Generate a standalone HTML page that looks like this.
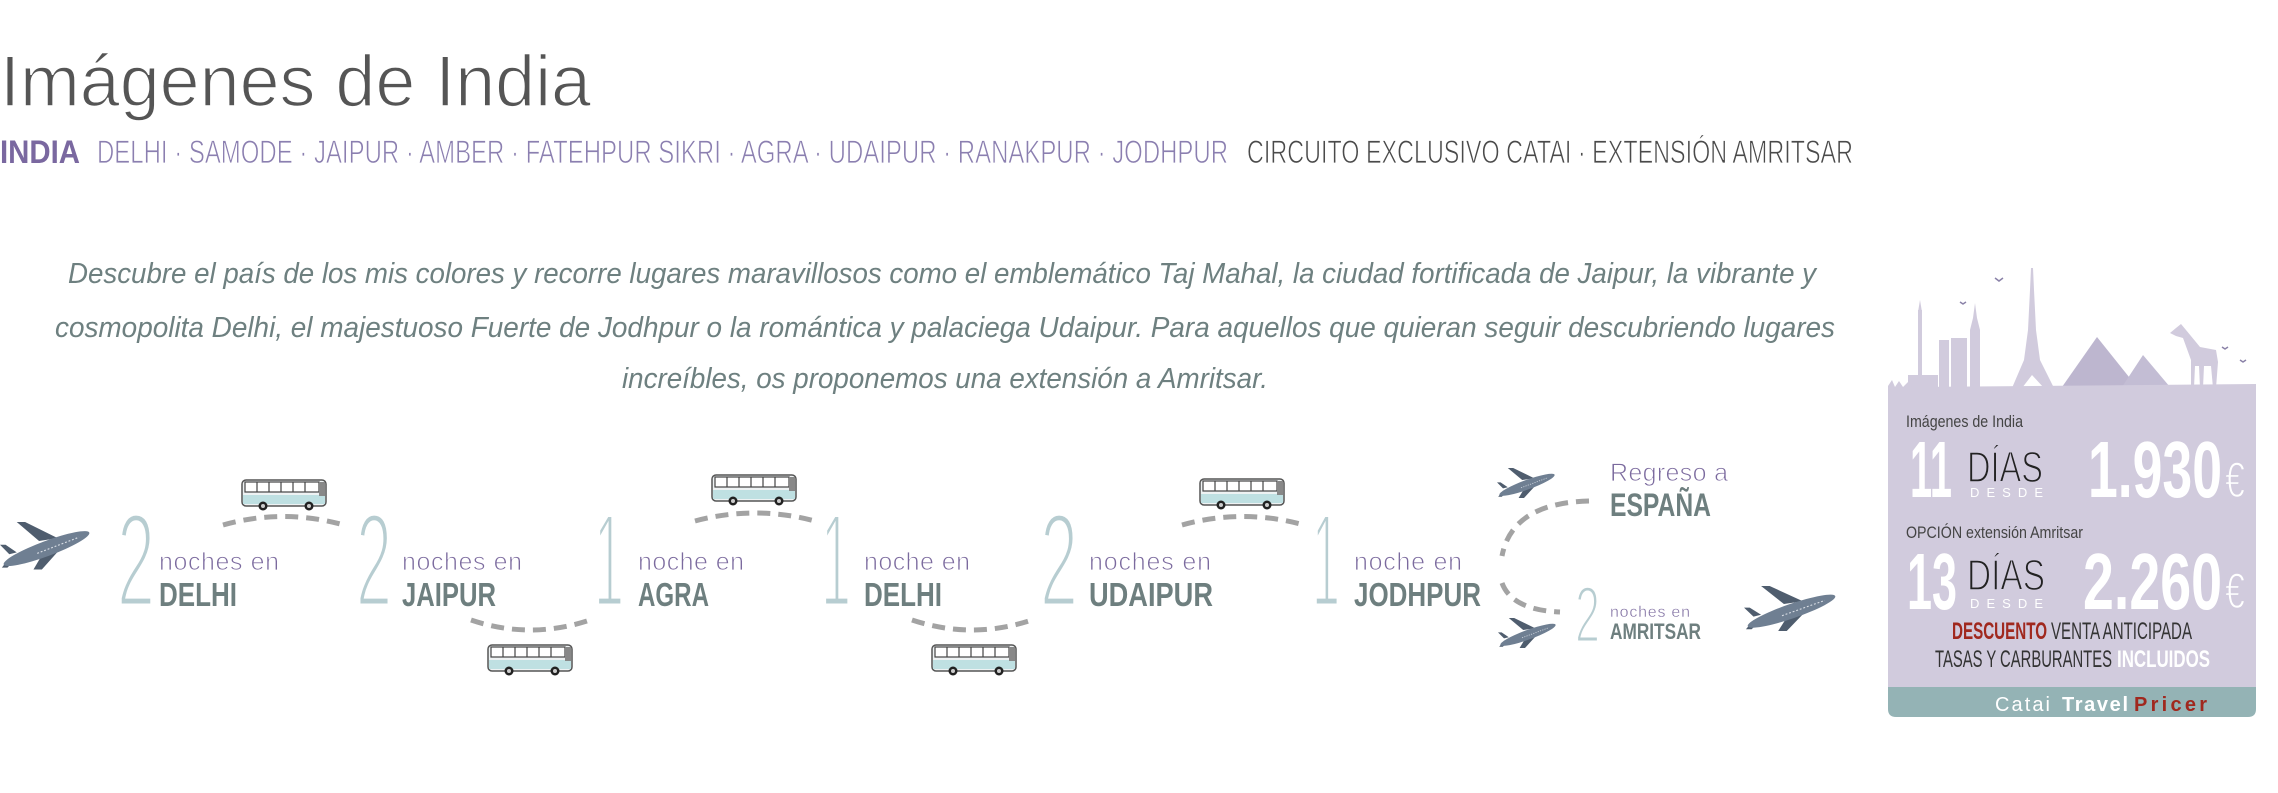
<!DOCTYPE html>
<html><head><meta charset="utf-8"><style>
html,body{margin:0;padding:0;background:#fff;}
svg{display:block;font-family:"Liberation Sans",sans-serif;}
</style></head><body>
<svg width="2278" height="793" viewBox="0 0 2278 793" xmlns="http://www.w3.org/2000/svg">
<defs>
<g id="plane">
 <polygon points="42,20 18,0 27,0 62,17" fill="#4f5d6e"/>
 <polygon points="48,30 36,50 45,50 66,27" fill="#4f5d6e"/>
 <polygon points="10,34 0,24 6,24 18,32" fill="#4f5d6e"/>
 <polygon points="10,38 2,48 8,48 18,38" fill="#4f5d6e"/>
 <ellipse cx="50" cy="28" rx="49" ry="8" transform="rotate(-20 50 28)" fill="#6f7f92"/>
 <path d="M40 33 L85 16" stroke="#d9dee5" stroke-width="1.2" stroke-dasharray="2 2"/>
</g>
<g id="bus">
 <rect x="1" y="2" width="84" height="26" rx="4" fill="#eef2f3" stroke="#555" stroke-width="1.5"/>
 <rect x="4" y="4" width="74" height="10" fill="#fff" stroke="#444" stroke-width="1.2"/>
 <path d="M16 4V14M28 4V14M40 4V14M52 4V14M64 4V14" stroke="#444" stroke-width="1.2"/>
 <rect x="2" y="17" width="82" height="9" fill="#bfe0e2"/>
 <rect x="78" y="4" width="6" height="14" fill="#888"/>
 <circle cx="22" cy="28" r="4.5" fill="#222"/><circle cx="22" cy="28" r="2" fill="#ccc"/>
 <circle cx="68" cy="28" r="4.5" fill="#222"/><circle cx="68" cy="28" r="2" fill="#ccc"/>
</g>
</defs>

<!-- Title -->
<text x="0" y="106" font-size="72" fill="#555" stroke="#fff" stroke-width="1.6" textLength="591" lengthAdjust="spacingAndGlyphs">Imágenes de India</text>
<text x="0" y="163" font-size="32" font-weight="bold" fill="#7a68a0" textLength="80" lengthAdjust="spacingAndGlyphs">INDIA</text>
<text x="97" y="163" font-size="32" fill="#8b7fb0" stroke="#fff" stroke-width="0.8" textLength="1131" lengthAdjust="spacingAndGlyphs">DELHI · SAMODE · JAIPUR · AMBER · FATEHPUR SIKRI · AGRA · UDAIPUR · RANAKPUR · JODHPUR</text>
<text x="1247" y="163" font-size="32" fill="#4a4a4a" stroke="#fff" stroke-width="0.8" textLength="606" lengthAdjust="spacingAndGlyphs">CIRCUITO EXCLUSIVO CATAI · EXTENSIÓN AMRITSAR</text>

<!-- Paragraph -->
<g font-size="29" font-style="italic" fill="#6e8080">
<text x="68" y="283" textLength="1748" lengthAdjust="spacingAndGlyphs">Descubre el país de los mis colores y recorre lugares maravillosos como el emblemático Taj Mahal, la ciudad fortificada de Jaipur, la vibrante y</text>
<text x="55" y="337" textLength="1780" lengthAdjust="spacingAndGlyphs">cosmopolita Delhi, el majestuoso Fuerte de Jodhpur o la romántica y palaciega Udaipur. Para aquellos que quieran seguir descubriendo lugares</text>
<text x="622" y="388" textLength="646" lengthAdjust="spacingAndGlyphs">increíbles, os proponemos una extensión a Amritsar.</text>
</g>

<!-- Dashes -->
<g fill="none" stroke="#a3a3a3" stroke-width="5" stroke-dasharray="13 8">
 <path d="M223 525 Q283 508 344 525"/>
 <path d="M695 521 Q755 505 815 521"/>
 <path d="M1182 525 Q1243 508 1304 525"/>
 <path d="M471 620 Q530 640 590 620"/>
 <path d="M912 620 Q972 640 1032 620"/>
 <path d="M1589 501 Q1512 503 1502 556"/>
 <path d="M1502 583 Q1512 610 1560 612"/>
</g>

<!-- Buses -->
<use href="#bus" transform="translate(241,478)"/>
<use href="#bus" transform="translate(711,473)"/>
<use href="#bus" transform="translate(1199,477)"/>
<use href="#bus" transform="translate(487,643)"/>
<use href="#bus" transform="translate(931,643)"/>

<!-- Planes -->
<use href="#plane" transform="translate(0,522) scale(0.93,0.95)"/>
<use href="#plane" transform="translate(1497,468) scale(0.6)"/>
<use href="#plane" transform="translate(1498,618) scale(0.6)"/>
<use href="#plane" transform="translate(1744,586) scale(0.95,0.9)"/>

<!-- Numerals -->
<g font-size="133" fill="#b7cdd1" stroke="#fff" stroke-width="5">
 <text x="117" y="606" textLength="38" lengthAdjust="spacingAndGlyphs">2</text>
 <text x="356" y="606" textLength="36" lengthAdjust="spacingAndGlyphs">2</text>
 <text x="594" y="606" textLength="30" lengthAdjust="spacingAndGlyphs">1</text>
 <text x="821" y="606" textLength="30" lengthAdjust="spacingAndGlyphs">1</text>
 <text x="1040" y="606" textLength="38" lengthAdjust="spacingAndGlyphs">2</text>
 <text x="1312" y="606" textLength="28" lengthAdjust="spacingAndGlyphs">1</text>
 <text x="1575" y="642" font-size="80" stroke-width="3" textLength="25" lengthAdjust="spacingAndGlyphs">2</text>
</g>
<g font-size="25" fill="#7b6a9e" stroke="#fff" stroke-width="0.8">
 <text x="159" y="570" textLength="120" lengthAdjust="spacing">noches en</text>
 <text x="402" y="570" textLength="120" lengthAdjust="spacing">noches en</text>
 <text x="638" y="570" textLength="106" lengthAdjust="spacing">noche en</text>
 <text x="864" y="570" textLength="106" lengthAdjust="spacing">noche en</text>
 <text x="1089" y="570" textLength="122" lengthAdjust="spacing">noches en</text>
 <text x="1354" y="570" textLength="108" lengthAdjust="spacing">noche en</text>
 <text x="1610" y="481" textLength="118" lengthAdjust="spacing">Regreso a</text>
 <text x="1610" y="617" font-size="16" stroke-width="0.4" textLength="80" lengthAdjust="spacing">noches en</text>
</g>
<g font-size="33" font-weight="bold" fill="#6e7f7f">
 <text x="159" y="606" textLength="78" lengthAdjust="spacingAndGlyphs">DELHI</text>
 <text x="402" y="606" textLength="94" lengthAdjust="spacingAndGlyphs">JAIPUR</text>
 <text x="638" y="606" textLength="71" lengthAdjust="spacingAndGlyphs">AGRA</text>
 <text x="864" y="606" textLength="78" lengthAdjust="spacingAndGlyphs">DELHI</text>
 <text x="1089" y="606" textLength="124" lengthAdjust="spacingAndGlyphs">UDAIPUR</text>
 <text x="1354" y="606" textLength="127" lengthAdjust="spacingAndGlyphs">JODHPUR</text>
 <text x="1610" y="516" font-size="32" textLength="101" lengthAdjust="spacingAndGlyphs">ESPAÑA</text>
 <text x="1610" y="639" font-size="22" textLength="91" lengthAdjust="spacingAndGlyphs">AMRITSAR</text>
</g>

<!-- Price box skyline -->
<g fill="#d1cbdd">
 <rect x="1918" y="310" width="4" height="80"/>
 <polygon points="1920,300 1918,312 1922,312"/>
 <rect x="1908" y="375" width="30" height="15"/>
 <rect x="1939" y="340" width="10" height="50"/>
 <rect x="1951" y="338" width="16" height="52"/>
 <polygon points="1970,390 1970,330 1973,318 1975,303 1977,318 1980,330 1980,390"/>
 <polygon points="2012,388 2024,360 2028,330 2030,290 2031,268 2033,268 2034,290 2036,330 2040,360 2054,388 2044,388 2032,375 2022,388"/>
 <polygon points="2170,333 2176,328 2181,324 2186,330 2200,347 2216,350 2218,362 2216,388 2213,388 2211,366 2204,366 2203,388 2200,388 2199,366 2195,366 2194,388 2191,388 2191,360 2183,338 2176,336"/>
</g>
<polygon points="2062,387 2097,337 2137,387" fill="#bdb6cf"/>
<polygon points="2122,387 2143,355 2170,387" fill="#c3bdd4"/>
<g stroke="#8a82a8" stroke-width="1.5" fill="none">
 <path d="M1995 278 l4 3 4-3"/><path d="M1960 302 l3 2 3-2"/><path d="M2222 347 l3 2 3-2"/><path d="M2240 360 l3 2 3-2"/>
</g>
<path d="M1888 392 L1888 386 L1892 380 L1895 387 L1899 381 L1903 387 L1908 382 L1912 387 L2256 384 L2256 392 Z" fill="#d1cbdd"/>
<path d="M1888 387 H2256 V687 H1888 Z" fill="#d1cbdd"/>
<path d="M1888 687 H2256 V709 Q2256 717 2248 717 H1896 Q1888 717 1888 709 Z" fill="#94b3b5"/>

<text x="1906" y="427" font-size="17" fill="#444" textLength="117" lengthAdjust="spacingAndGlyphs">Imágenes de India</text>
<text x="1910" y="497" font-size="80" font-weight="bold" fill="#fff" textLength="42" lengthAdjust="spacingAndGlyphs">11</text>
<text x="1967" y="482" font-size="44" fill="#222" stroke="#d1cbdd" stroke-width="1.5" textLength="76" lengthAdjust="spacingAndGlyphs">DÍAS</text>
<text x="1970" y="497" font-size="13" fill="#fff" textLength="73" lengthAdjust="spacing">DESDE</text>
<text x="2088" y="497" font-size="80" font-weight="bold" fill="#fff" textLength="134" lengthAdjust="spacingAndGlyphs">1.930</text>
<text x="2225" y="497" font-size="50" fill="#fff" stroke="#d1cbdd" stroke-width="1.5" textLength="20" lengthAdjust="spacingAndGlyphs">€</text>

<text x="1906" y="538" font-size="17" fill="#444" textLength="177" lengthAdjust="spacingAndGlyphs">OPCIÓN extensión Amritsar</text>
<text x="1907" y="609" font-size="80" font-weight="bold" fill="#fff" textLength="50" lengthAdjust="spacingAndGlyphs">13</text>
<text x="1967" y="590" font-size="44" fill="#222" stroke="#d1cbdd" stroke-width="1.5" textLength="78" lengthAdjust="spacingAndGlyphs">DÍAS</text>
<text x="1970" y="608" font-size="13" fill="#fff" textLength="73" lengthAdjust="spacing">DESDE</text>
<text x="2083" y="609" font-size="80" font-weight="bold" fill="#fff" textLength="139" lengthAdjust="spacingAndGlyphs">2.260</text>
<text x="2225" y="608" font-size="50" fill="#fff" stroke="#d1cbdd" stroke-width="1.5" textLength="20" lengthAdjust="spacingAndGlyphs">€</text>

<text x="1952" y="639" font-size="24" font-weight="bold" fill="#a0281e" textLength="95" lengthAdjust="spacingAndGlyphs">DESCUENTO</text>
<text x="2051" y="639" font-size="24" fill="#333" textLength="141" lengthAdjust="spacingAndGlyphs">VENTA ANTICIPADA</text>
<text x="1935" y="667" font-size="24" fill="#333" textLength="177" lengthAdjust="spacingAndGlyphs">TASAS Y CARBURANTES</text>
<text x="2117" y="667" font-size="24" font-weight="bold" fill="#fff" textLength="93" lengthAdjust="spacingAndGlyphs">INCLUIDOS</text>

<text x="1995" y="711" font-size="20" fill="#fff" textLength="55" lengthAdjust="spacing">Catai</text>
<text x="2062" y="711" font-size="20" font-weight="bold" fill="#fff" textLength="66" lengthAdjust="spacing">Travel</text>
<text x="2134" y="711" font-size="20" font-weight="bold" fill="#a0281e" textLength="73" lengthAdjust="spacing">Pricer</text>
</svg>
</body></html>
